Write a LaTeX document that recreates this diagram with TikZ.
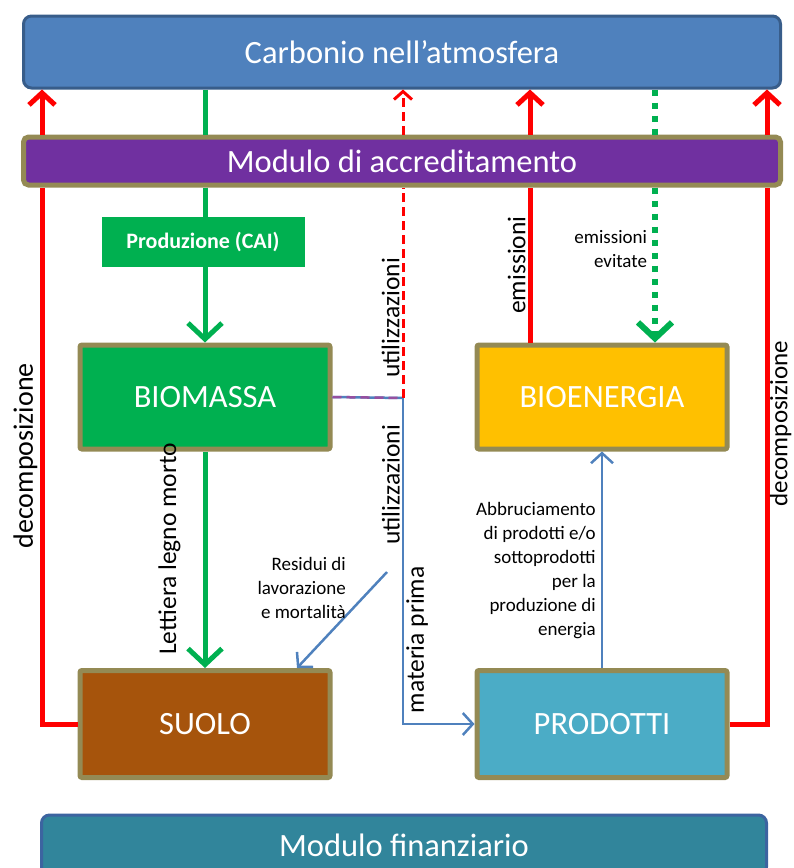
\documentclass[tikz,border=0pt]{standalone}
\usepackage{fontspec}
\setmainfont{Carlito}
\usetikzlibrary{arrows.meta,positioning}

\definecolor{atmblue}{RGB}{79,129,189}
\definecolor{atmedge}{RGB}{56,93,138}
\definecolor{accrpurple}{RGB}{112,48,160}
\definecolor{boxedge}{RGB}{148,138,84}
\definecolor{biogreen}{RGB}{0,176,80}
\definecolor{bioyellow}{RGB}{255,192,0}
\definecolor{soilbrown}{RGB}{166,84,12}
\definecolor{prodblue}{RGB}{75,172,198}
\definecolor{finteal}{RGB}{49,133,155}
\definecolor{finedge}{RGB}{60,100,160}
\definecolor{flowblue}{RGB}{79,129,189}
\definecolor{mixpurple}{RGB}{150,80,160}

\tikzset{
  band/.style={rounded corners=8pt, text=white, font=\fontsize{32.5}{36}\selectfont, minimum width=757pt},
  pool/.style={draw=boxedge, line width=5pt, rounded corners=2pt, minimum width=250pt, minimum height=104pt, text=white, font=\fontsize{32.5}{36}\selectfont},
  lbl/.style={font=\fontsize{25.5}{30}\selectfont, inner sep=2pt, text=black},
  note/.style={font=\fontsize{19}{24}\selectfont, align=right, inner sep=3pt, text=black},
  redline/.style={draw=red, line width=5pt},
  redflow/.style={redline, -{Straight Barb[length=12pt,width=26pt]}},
  reddash/.style={draw=red, line width=3pt, dash pattern=on 9pt off 5pt},
  greenline/.style={draw=biogreen, line width=5pt},
  greenflow/.style={greenline, -{Straight Barb[length=16pt,width=34pt]}},
  greendots/.style={draw=biogreen, line width=6pt, dash pattern=on 6pt off 7pt},
  blueline/.style={draw=flowblue, line width=2.5pt},
  blueflow/.style={blueline, -{Straight Barb[length=10pt,width=22pt]}}
}

\begin{document}
\begin{tikzpicture}[x=1pt,y=-1pt]
\useasboundingbox (0,0) rectangle (794,868);

% bands
\node (atm) [band, draw=atmedge, line width=3pt, fill=atmblue, minimum height=72pt] at (402,52) {Carbonio nell’atmosfera};
\node (accr) [band, draw=boxedge, line width=5pt, fill=accrpurple, rounded corners=5pt, minimum height=48pt] at (402,161) {Modulo di accreditamento};
\node (fin) [band, draw=finedge, line width=3pt, fill=finteal, minimum width=725pt, minimum height=60pt] at (404,845) {Modulo finanziario};

% pools
\node (bio) [pool, fill=biogreen] at (205,397) {BIOMASSA};
\node (bioen) [pool, fill=bioyellow, right=142pt of bio] {BIOENERGIA};
\node (suolo) [pool, fill=soilbrown, minimum height=107pt] at (205,724) {SUOLO};
\node (prod) [pool, fill=prodblue, minimum height=107pt, right=142pt of suolo] {PRODOTTI};
\node (cai) [fill=biogreen, text=white, font=\fontsize{22}{24}\selectfont\bfseries, minimum width=203pt, minimum height=50pt] at (203,242) {Produzione (CAI)};

\coordinate (dl) at (42,0);
\coordinate (dr) at (767,0);
\coordinate (em) at (530,0);
\coordinate (ev) at (655,0);
\coordinate (junc) at (403,398);
\coordinate (res) at (387,572);

% decomposizione
\draw[redline] (suolo.west) -| (accr.south -| dl) node[lbl, font=\fontsize{28}{32}\selectfont, pos=0.75, rotate=90, anchor=south] {decomposizione};
\draw[redflow] (accr.north -| dl) -- (atm.south -| dl);
\draw[redline] (prod.east) -| (accr.south -| dr) node[lbl, font=\fontsize{25}{30}\selectfont, inner sep=0.5pt, pos=0.78, rotate=90, anchor=north] {decomposizione};
\draw[redflow] (accr.north -| dr) -- (atm.south -| dr);

% emissioni
\draw[redline] (bioen.north -| em) -- (accr.south -| em) node[lbl, midway, rotate=90, anchor=south] {emissioni};
\draw[redflow] (accr.north -| em) -- (atm.south -| em);

% produzione
\draw[greenline] (atm.south -| bio) -- (accr.north -| bio);
\draw[greenline] (accr.south -| bio) -- (cai.north -| bio);
\draw[greenflow] (cai.south -| bio) -- (bio.north);
\draw[greenflow] (bio.south) -- (suolo.north) node[lbl, inner ysep=22pt, pos=0.45, rotate=90, anchor=south] {Lettiera legno morto};

% emissioni evitate
\draw[greendots] (atm.south -| ev) -- (accr.north -| ev);
\draw[greendots, -{Straight Barb[length=16pt,width=34pt]}] (accr.south -| ev) -- (bioen.north -| ev) node[note, pos=0.4, anchor=east, xshift=-2pt] {emissioni\\evitate};

% utilizzazioni
\draw[blueline] (bio.east) -- (junc);
\draw[draw=mixpurple, line width=2.5pt, dash pattern=on 9pt off 5pt] (bio.east) -- (junc);
\draw[reddash] (junc) -- (accr.south -| junc) node[lbl, pos=0.38, rotate=90, anchor=south] {utilizzazioni};
\draw[reddash, -{Straight Barb[length=8pt,width=18pt]}] (accr.north -| junc) -- (atm.south -| junc);
\draw[blueflow] (junc) |- (prod.west)
  node[lbl, pos=0.133, rotate=90, anchor=south] {utilizzazioni}
  node[lbl, pos=0.371, rotate=90, anchor=north] {materia prima};

% residui
\draw[blueflow] (res) -- ([xshift=92pt]suolo.north);
\node (resl) [note, anchor=east] at ([xshift=-38pt,yshift=-16pt]res) {Residui di\\lavorazione\\e mortalità};

% abbruciamento
\draw[blueflow] (prod.north) -- (bioen.south) node[note, pos=0.45, anchor=east, xshift=-2pt] {Abbruciamento\\di prodotti e/o\\sottoprodotti\\per la\\produzione di\\energia};
\end{tikzpicture}
\end{document}
